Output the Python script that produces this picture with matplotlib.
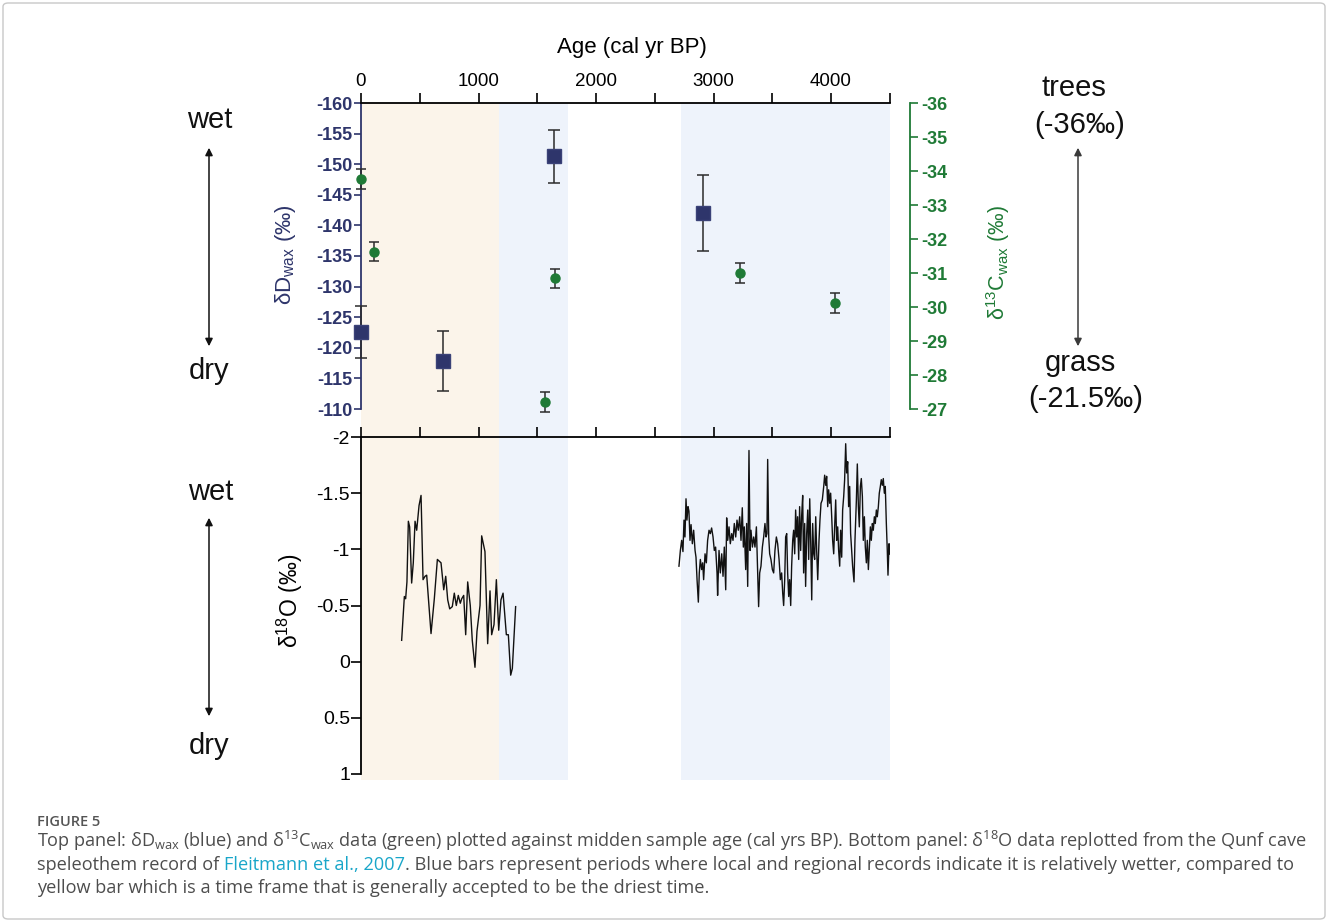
import matplotlib
matplotlib.use("Agg")
import matplotlib.pyplot as plt
from matplotlib.patches import FancyBboxPatch

plt.rcParams["font.family"] = ["Liberation Sans", "DejaVu Sans"]
plt.rcParams["axes.unicode_minus"] = False

# ---------------- data ----------------
dD_age = [0, 700, 1640, 2910]
dD_val = [-122.6, -117.8, -151.3, -142.0]
dD_err = [4.3, 4.9, 4.3, 6.2]

d13C_age = [0, 110, 1570, 1650, 3225, 4030]
d13C_val = [-33.77, -31.63, -27.2, -30.84, -31.0, -30.11]
d13C_err = [0.29, 0.29, 0.29, 0.29, 0.3, 0.3]

# Qunf cave d18O, late Holocene part
d18O_age_a = [346, 369, 380, 391, 403, 414, 431, 445, 460, 474, 494, 511, 528, 545, 559,
              596, 624, 650, 681, 704, 721, 738, 755, 777, 794, 811, 828, 845, 857, 874,
              891, 908, 930, 947, 970, 987, 1013, 1027, 1055, 1078, 1098, 1112, 1132,
              1152, 1172, 1191, 1209, 1237, 1254, 1274, 1288, 1316]
d18O_val_a = [-0.19, -0.58, -0.56, -0.71, -1.25, -1.20, -0.70, -0.88, -1.25, -1.17, -1.39,
              -1.48, -0.73, -0.76, -0.77, -0.25, -0.56, -0.91, -0.88, -0.64, -0.76, -0.55,
              -0.47, -0.49, -0.61, -0.50, -0.59, -0.52, -0.56, -0.59, -0.24, -0.71, -0.50,
              -0.19, 0.05, -0.27, -0.50, -1.12, -0.98, -0.16, -0.63, -0.24, -0.33, -0.73,
              -0.28, -0.55, -0.61, -0.24, -0.24, 0.12, 0.06, -0.49]

# older part
d18O_age_b = [2706, 2718, 2729, 2740, 2749, 2757, 2766, 2774, 2783, 2791, 2800, 2809, 2820,
              2831, 2843, 2851, 2860, 2871, 2879, 2888, 2899, 2908, 2916, 2928, 2939, 2950,
              2962, 2973, 2984, 2996, 3007, 3018, 3030, 3035, 3047, 3058, 3070, 3081, 3092,
              3104, 3112, 3121, 3132, 3143, 3155, 3166, 3177, 3189, 3200, 3211, 3223, 3234,
              3245, 3254, 3262, 3274, 3282, 3291,
              3302, 3311, 3319, 3331, 3342, 3353, 3365, 3376, 3384, 3393, 3404, 3416, 3427,
              3438, 3447, 3455, 3461, 3470, 3478, 3489, 3501, 3512, 3523, 3535, 3546, 3558,
              3569, 3580, 3589, 3597, 3606, 3614, 3623, 3631, 3640, 3648, 3657, 3665, 3674,
              3682, 3691, 3699, 3708, 3716, 3725, 3733, 3742, 3750, 3759, 3767, 3776, 3784,
              3793, 3802, 3810, 3819, 3827, 3836, 3844, 3853, 3861, 3870, 3878, 3887, 3898,
              3906, 3915, 3926, 3938, 3946, 3955, 3963, 3972, 3980, 3989, 3997, 4006, 4014,
              4023, 4031, 4040, 4048, 4057, 4065, 4074, 4082, 4091, 4099, 4108, 4116, 4125,
              4133, 4142, 4150, 4159, 4167, 4176, 4184, 4196, 4204, 4216, 4224, 4233, 4241,
              4250, 4258, 4267, 4275, 4284, 4292, 4301, 4309, 4318, 4326, 4335, 4343, 4352,
              4360, 4369, 4377, 4386, 4394, 4403, 4411, 4420, 4428, 4437, 4445, 4454, 4462,
              4471, 4479, 4485, 4494, 4498]
d18O_val_b = [-0.85, -0.99, -1.08, -0.98, -1.26, -1.11, -1.45, -1.26, -1.38, -1.34, -1.08,
              -1.22, -1.05, -1.17, -0.99, -0.93, -0.73, -0.53, -0.79, -0.91, -0.82, -0.88,
              -0.73, -0.96, -0.88, -1.08, -1.17, -1.14, -1.19, -1.11, -0.99, -1.02, -0.79,
              -0.59, -0.99, -0.79, -0.96, -0.76, -1.02, -0.64, -1.28, -1.08, -1.20, -1.05,
              -1.14, -1.08, -1.23, -1.11, -1.26, -1.17, -1.29, -1.08, -1.37, -1.02, -1.20,
              -0.82, -1.23, -0.67,
              -1.88, -0.99, -1.17, -1.02, -1.11, -1.02, -1.20, -0.79, -0.49, -0.79, -0.85,
              -1.02, -1.11, -1.23, -1.11, -1.14, -1.80, -1.11, -0.96, -0.91, -0.82, -0.79,
              -0.99, -1.11, -1.05, -0.91, -0.73, -0.79, -0.61, -0.50, -0.73, -1.11, -1.14,
              -0.79, -0.58, -0.73, -0.50, -0.85, -1.08, -1.17, -0.96, -1.35, -1.11, -1.29,
              -0.91, -1.38, -0.99, -1.29, -1.48, -0.79, -1.23, -0.67, -1.14, -1.35, -0.91,
              -1.45, -1.08, -0.55, -1.23, -0.96, -0.91, -1.29, -0.99, -0.73, -1.08,
              -1.26, -1.41, -1.44, -1.56, -1.66, -1.57, -1.65, -1.38, -1.53, -1.41, -1.50,
              -1.29, -1.08, -0.96, -1.20, -1.44, -1.08, -1.20, -0.99, -0.85, -1.17, -0.93,
              -1.35, -1.47, -1.62, -1.94, -1.68, -1.78, -1.38, -1.56, -1.14, -0.99, -0.85,
              -0.71, -1.08, -1.44, -1.76, -1.38, -1.20, -1.56, -1.63, -1.47, -1.08, -1.29,
              -1.02, -0.88, -1.08, -0.82, -0.99, -1.20, -1.08, -1.23, -1.17, -1.29, -1.23,
              -1.35, -1.29, -1.38, -1.50, -1.56, -1.62, -1.57, -1.63, -1.50, -1.56, -1.23,
              -0.99, -0.77, -1.05, -0.96]

dry_span = (0, 1175)
wet_spans = [(1175, 1760), (2720, 4500)]

age_ticks = [0, 1000, 2000, 3000, 4000]
age_minor = [500, 1500, 2500, 3500, 4500]
dD_ticks = [-160, -155, -150, -145, -140, -135, -130, -125, -120, -115, -110]
d13C_ticks = [-36, -35, -34, -33, -32, -31, -30, -29, -28, -27]
d18O_ticks = [-2, -1.5, -1, -0.5, 0, 0.5, 1]
d18O_ticklabels = ["-2", "-1.5", "-1", "-0.5", "0", "0.5", "1"]

# ---------------- style ----------------
NAVY = "#2e356b"
GREEN = "#1f7a36"
YELLOW_BG = "#fbf4ea"
BLUE_BG = "#eef3fb"
ERR = "#2b2b2b"

W, H = 1328, 922


def rect(left, top, right, bottom):
    return [left / W, 1 - bottom / H, (right - left) / W, (bottom - top) / H]


fig = plt.figure(figsize=(W / 100, H / 100), dpi=100)

# outer frame
fig.patches.append(FancyBboxPatch((3 / W, 3 / H), (W - 6) / W, (H - 6) / H,
                                  boxstyle="round,pad=0,rounding_size=0.004",
                                  transform=fig.transFigure, facecolor="none",
                                  edgecolor="#c8c8c8", lw=1.0))

X0, X1 = 361, 889.75

# background shading spanning both panels
ax_bg = fig.add_axes(rect(X0, 103, X1, 780))
ax_bg.set_xlim(0, 4500)
ax_bg.axvspan(*dry_span, color=YELLOW_BG, lw=0)
for s in wet_spans:
    ax_bg.axvspan(*s, color=BLUE_BG, lw=0)
ax_bg.axis("off")

# ---- top panel ----
ax = fig.add_axes(rect(X0, 103, X1, 409))
ax.set_facecolor("none")
ax.set_xlim(0, 4500)
ax.set_ylim(-110, -160)
for side in ["right", "bottom"]:
    ax.spines[side].set_visible(False)
ax.spines["left"].set_color(NAVY)
ax.spines["left"].set_linewidth(1.3)
ax.spines["top"].set_linewidth(1.3)
ax.xaxis.tick_top()
ax.set_xticks(age_ticks)
ax.set_xticks(age_minor, minor=True)
ax.tick_params(axis="x", which="both", direction="out", length=7.5, width=1.2,
               labelsize=13.5, pad=2)
ax.set_yticks(dD_ticks)
ax.set_yticklabels([str(v) for v in dD_ticks], fontweight="bold", color=NAVY)
ax.tick_params(axis="y", direction="out", length=5, width=1.2, color=NAVY,
               labelsize=13, pad=1)

ax.errorbar(dD_age, dD_val, yerr=dD_err, fmt="s", ms=9.5, mfc=NAVY, mec="#3b4278",
            ecolor=ERR, elinewidth=1.1, capsize=4, capthick=1.1, clip_on=False, zorder=4)

ax2 = ax.twinx()
ax2.set_ylim(-27, -36)
for side in ["left", "top", "bottom"]:
    ax2.spines[side].set_visible(False)
ax2.spines["right"].set_position(("outward", 14.5))
ax2.spines["right"].set_color(GREEN)
ax2.spines["right"].set_linewidth(1.3)
ax2.set_yticks(d13C_ticks)
ax2.set_yticklabels([str(v) for v in d13C_ticks], fontweight="bold", color=GREEN)
ax2.tick_params(axis="y", direction="out", length=6, width=1.2, color=GREEN,
                labelsize=13, pad=2)
ax2.errorbar(d13C_age, d13C_val, yerr=d13C_err, fmt="o", ms=6.5, mfc=GREEN, mec=GREEN,
             ecolor=ERR, elinewidth=1.1, capsize=3.5, capthick=1.1, clip_on=False, zorder=4)

# ---- bottom panel ----
axb = fig.add_axes(rect(X0, 437, X1, 774))
axb.set_facecolor("none")
axb.set_xlim(0, 4500)
axb.set_ylim(1, -2)
for side in ["right", "bottom"]:
    axb.spines[side].set_visible(False)
axb.spines["left"].set_linewidth(1.3)
axb.spines["top"].set_linewidth(1.3)
axb.xaxis.tick_top()
axb.set_xticks(age_ticks)
axb.set_xticks(age_minor, minor=True)
axb.tick_params(axis="x", which="both", direction="out", length=7.5, width=1.2,
                labeltop=False, labelbottom=False)
axb.set_yticks(d18O_ticks)
axb.set_yticklabels(d18O_ticklabels)
axb.tick_params(axis="y", direction="out", length=7, width=1.2, labelsize=14, pad=1)
axb.plot(d18O_age_a, d18O_val_a, color="#111111", lw=1.0)
axb.plot(d18O_age_b, d18O_val_b, color="#111111", lw=1.0)


def px(x, y):
    return x / W, 1 - y / H


# axis titles
fig.text(*px(632, 47), "Age (cal yr BP)", ha="center", va="center", fontsize=16)
fig.text(*px(285, 255), r"δD$_{\mathregular{wax}}$ (‰)", ha="center", va="center",
         rotation=90, fontsize=16, color=NAVY)
fig.text(*px(998, 262), r"δ$^{\mathregular{13}}$C$_{\mathregular{wax}}$ (‰)", ha="center",
         va="center", rotation=90, fontsize=15.5, color=GREEN)
fig.text(*px(290, 601), r"δ$^{\mathregular{18}}$O (‰)", ha="center", va="center",
         rotation=90, fontsize=16.5)

# wet / dry annotations
side_kw = dict(ha="center", va="center", fontsize=21, color="#111111")
fig.text(*px(210, 120), "wet", **side_kw)
fig.text(*px(209, 371), "dry", **side_kw)
fig.text(*px(211, 492), "wet", **side_kw)
fig.text(*px(209, 746), "dry", **side_kw)
fig.text(*px(1074, 88), "trees", **side_kw)
fig.text(*px(1080, 125), "(-36‰)", **side_kw)
fig.text(*px(1080, 363), "grass", **side_kw)
fig.text(*px(1086, 399), "(-21.5‰)", **side_kw)


def double_arrow(x, y0, y1, color="#111111"):
    fig.patches.append(matplotlib.patches.FancyArrowPatch(
        px(x, y0), px(x, y1), transform=fig.transFigure, arrowstyle="<|-|>",
        mutation_scale=11, lw=1.1, color=color))


double_arrow(209, 145, 349)
double_arrow(209, 515, 719)
double_arrow(1078, 145, 349, color="#3a3a3a")

# caption
CAP = "#4d4d4d"
cap_font = ["Open Sans", "DejaVu Sans"]
fig.text(*px(37, 822), "FIGURE 5", fontsize=10.5, color="#555555", family=cap_font,
         fontweight="semibold", va="center")

renderer = fig.canvas.get_renderer()


def caption_line(parts, x, y):
    cur = x
    for s, col in parts:
        t = fig.text(cur / W, 1 - y / H, s, fontsize=13.1, color=col, family=cap_font,
                     va="baseline")
        bb = t.get_window_extent(renderer)
        cur += bb.width


caption_line([(r"Top panel: δD$_\mathregular{wax}$ (blue) and δ$^\mathregular{13}$C$_\mathregular{wax}$"
               r" data (green) plotted against midden sample age (cal yrs BP). Bottom panel: "
               r"δ$^\mathregular{18}$O data replotted from the Qunf cave", CAP)], 37, 847)
caption_line([("speleothem record of ", CAP), ("Fleitmann et al., 2007", "#19a6c9"),
              (". Blue bars represent periods where local and regional records indicate it "
               "is relatively wetter, compared to", CAP)], 37, 870)
caption_line([("yellow bar which is a time frame that is generally accepted to be the "
               "driest time.", CAP)], 37, 893)

fig.savefig("out.png", dpi=100, facecolor="white")
